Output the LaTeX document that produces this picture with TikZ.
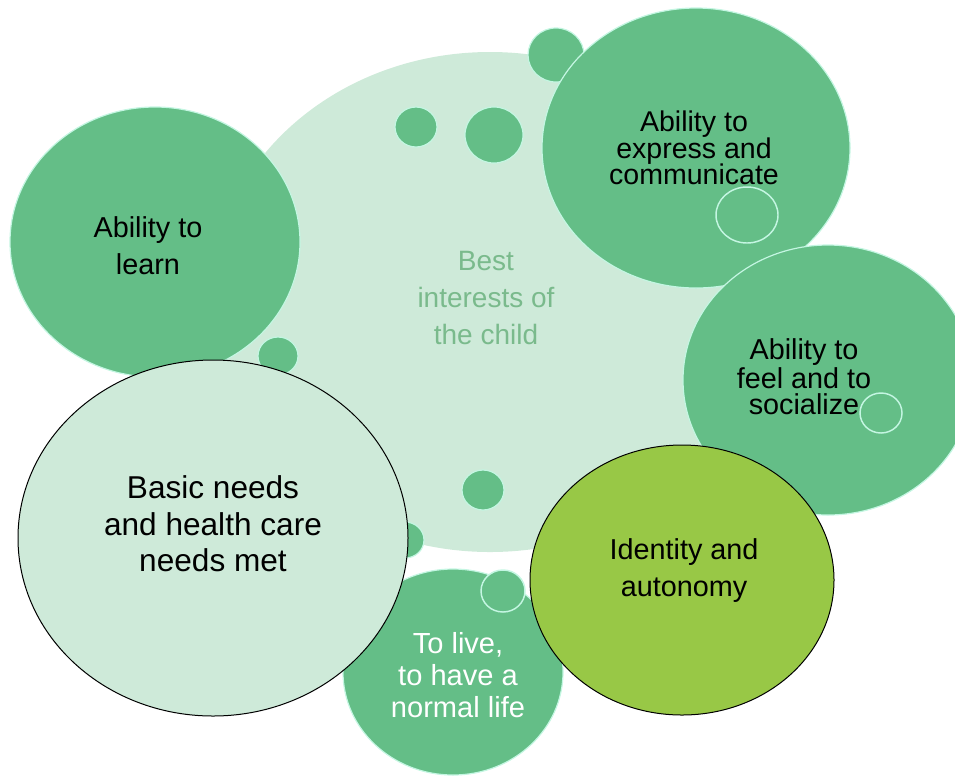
\documentclass[tikz,border=0pt]{standalone}
\usepackage{fontspec}
\setmainfont{Liberation Sans}
\definecolor{bubblegreen}{RGB}{100,190,135}
\definecolor{palemint}{RGB}{206,234,217}
\definecolor{limegreen}{RGB}{152,200,70}
\definecolor{mintedge}{RGB}{196,246,226}
\definecolor{softgreen}{RGB}{122,186,140}
\begin{document}
\begin{tikzpicture}[x=0.75pt,y=0.75pt,yscale=-1,xscale=1,
  bubble/.style={fill=bubblegreen,draw=mintedge,line width=0.9},
  ring/.style={fill=bubblegreen,draw=mintedge,line width=1.1},
  outlined/.style={draw=black,line width=0.75},
  bubbletext/.style={inner sep=0.75pt,align=center,font=\fontsize{21.6}{27.75}\selectfont}]
\useasboundingbox (0,0) rectangle (955,776);
%Shape: Ellipse (background)
\draw [fill=palemint,draw=none] (490,302) ellipse (280 and 250);
%Shape: small dots on the background
\draw [bubble] (416,127) ellipse (21 and 20);
\draw [bubble] (494,135) ellipse (29 and 28);
\draw [bubble] (483,490) ellipse (21 and 20);
\draw [bubble] (556,55) ellipse (28 and 27);
\draw [bubble] (278,356) ellipse (20 and 19);
\draw [bubble] (405,540) ellipse (19 and 18);
%Shape: Ellipse learn
\draw [bubble] (155,242) ellipse (145 and 135);
%Shape: Ellipse express
\draw [bubble] (696,148) ellipse (154 and 140);
\draw [ring] (747,215) ellipse (31 and 28);
%Shape: Ellipse feel
\draw [bubble] (828,380) ellipse (145 and 135);
\draw [ring] (881,413) ellipse (21 and 20);
%Shape: Ellipse live
\draw [bubble] (453,672) ellipse (110 and 103);
\draw [ring] (503,591) ellipse (22 and 21);
%Shape: Ellipse basic needs
\draw [fill=palemint,outlined] (213,538) ellipse (195 and 178);
%Shape: Ellipse identity
\draw [fill=limegreen,outlined] (682,580) ellipse (152 and 135);

% Text Node
\node (child) at (486,298) [bubbletext,text=softgreen,font=\fontsize{21}{27.4}\selectfont] {Best\\interests of\\the child};
% Text Node
\node (learn) at (148,246) [bubbletext] {Ability to\\learn};
% Text Node
\node (express) at (694,148) [bubbletext,font=\fontsize{21.4}{20}\selectfont] {Ability to\\express and\\communicate};
% Text Node
\node (feel) at (804,377) [bubbletext,font=\fontsize{21.6}{20}\selectfont] {Ability to\\feel and to\\socialize};
% Text Node
\node (basic) at (213,524) [bubbletext,font=\fontsize{23.7}{27.4}\selectfont] {Basic needs\\and health care\\needs met};
% Text Node
\node (identity) at (684,571) [bubbletext] {Identity and\\autonomy};
% Text Node
\node (live) at (458,675) [bubbletext,text=white,font=\fontsize{21.8}{24}\selectfont] {To live,\\to have a\\normal life};
\end{tikzpicture}
\end{document}
